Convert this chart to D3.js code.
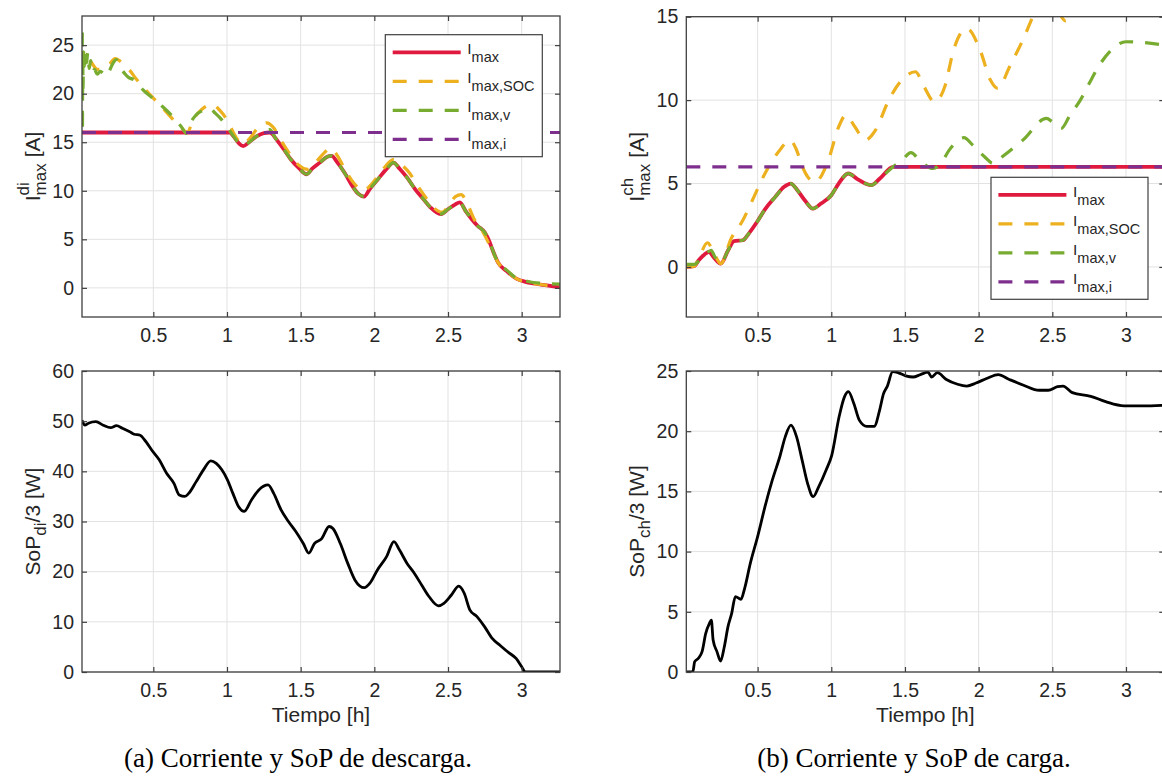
<!DOCTYPE html>
<html><head><meta charset="utf-8">
<script src="https://cdn.jsdelivr.net/npm/d3@7"></script>
<style>body{margin:0;background:#fff}svg{display:block}</style>
</head><body>
<svg id="c" width="1162" height="778"></svg>
<script>
// ---------- data ----------
const timeDomain = [0.016, 3.26];
const xTicks = [0.5, 1, 1.5, 2, 2.5, 3];
const xTickLabels = ["0.5", "1", "1.5", "2", "2.5", "3"];
const diCurTicks = [0, 5, 10, 15, 20, 25];
const chCurTicks = [0, 5, 10, 15];
const diSoPTicks = [0, 10, 20, 30, 40, 50, 60];
const chSoPTicks = [0, 5, 10, 15, 20, 25];
const legendNames = ["max", "max,SOC", "max,v", "max,i"];

// discharge: I_max (red)
const diImax = [[0.016,16],[1.0,16],[1.02,16],[1.04,15.7],[1.08,14.9],[1.11,14.6],[1.15,15.0],[1.2,15.6],[1.25,15.95],[1.29,16.0],[1.31,15.8],[1.33,15.4],[1.38,14.4],[1.43,13.3],[1.49,12.3],[1.54,11.7],[1.58,12.3],[1.63,12.9],[1.68,13.5],[1.71,13.6],[1.75,12.9],[1.8,11.8],[1.85,10.5],[1.89,9.7],[1.93,9.4],[1.97,10.2],[2.02,11.1],[2.08,12.2],[2.13,12.9],[2.17,12.3],[2.22,11.4],[2.28,10.1],[2.33,9.2],[2.38,8.3],[2.45,7.6],[2.5,8.1],[2.55,8.6],[2.58,8.8],[2.62,7.9],[2.66,7.1],[2.7,6.4],[2.75,5.7],[2.78,4.8],[2.8,4.0],[2.84,2.6],[2.9,1.7],[2.97,0.9],[3.02,0.65],[3.08,0.45],[3.17,0.25],[3.26,0.05]];
// discharge: I_max,SOC (orange)
const diImaxSOC = [[0.016,24.3],[0.02,23.6],[0.03,24.4],[0.05,23.8],[0.08,23.2],[0.12,22.5],[0.16,22.6],[0.2,23.0],[0.24,23.6],[0.27,23.4],[0.3,23.0],[0.34,22.4],[0.38,21.6],[0.43,20.7],[0.49,19.7],[0.56,18.6],[0.63,17.4],[0.69,16.5],[0.73,16.0],[0.77,17.3],[0.83,18.4],[0.9,18.9],[0.95,18.3],[1.0,17.3],[1.04,16.1],[1.08,15.1],[1.11,14.8],[1.16,15.5],[1.21,16.5],[1.27,17.0],[1.31,16.6],[1.37,15.1],[1.43,13.7],[1.49,12.6],[1.55,12.2],[1.6,12.9],[1.66,13.9],[1.7,14.4],[1.75,13.6],[1.8,12.2],[1.86,10.8],[1.9,10.2],[1.93,10.0],[1.97,10.5],[2.03,11.6],[2.08,12.6],[2.13,13.2],[2.19,12.6],[2.24,11.8],[2.29,10.6],[2.35,9.3],[2.4,8.3],[2.46,7.8],[2.51,8.6],[2.55,9.4],[2.59,9.6],[2.63,8.7],[2.68,7.0],[2.72,6.2],[2.76,5.1],[2.8,3.8],[2.84,2.6],[2.9,1.7],[2.97,0.9],[3.03,0.6],[3.1,0.4],[3.18,0.25],[3.26,0.12]];
// discharge: I_max,v (green)
const diImaxV = [[0.018,26.3],[0.019,16.1],[0.021,24.0],[0.023,20.5],[0.026,24.3],[0.031,22.8],[0.038,24.5],[0.047,23.2],[0.055,24.2],[0.065,22.6],[0.075,23.4],[0.085,22.2],[0.1,22.5],[0.12,22.0],[0.14,22.3],[0.16,22.1],[0.18,21.8],[0.2,22.3],[0.225,23.1],[0.25,23.5],[0.27,22.9],[0.29,22.4],[0.31,22.0],[0.33,21.7],[0.37,21.4],[0.4,20.9],[0.43,20.4],[0.49,19.6],[0.56,18.7],[0.64,17.5],[0.69,16.6],[0.725,15.9],[0.75,16.9],[0.79,17.8],[0.84,18.3],[0.88,18.5],[0.92,18.0],[0.965,17.3],[1.0,16.6],[1.04,15.7],[1.08,14.9],[1.11,14.6],[1.15,15.0],[1.2,15.6],[1.25,16.1],[1.29,16.3],[1.33,15.4],[1.38,14.4],[1.43,13.3],[1.49,12.3],[1.54,11.7],[1.58,12.3],[1.63,12.9],[1.68,13.5],[1.71,13.6],[1.75,12.9],[1.8,11.8],[1.85,10.5],[1.89,9.7],[1.93,9.4],[1.97,10.2],[2.02,11.1],[2.08,12.2],[2.13,12.9],[2.17,12.3],[2.22,11.4],[2.28,10.1],[2.33,9.2],[2.38,8.3],[2.45,7.6],[2.5,8.1],[2.55,8.6],[2.58,8.8],[2.62,7.9],[2.66,7.1],[2.7,6.4],[2.75,5.7],[2.78,4.8],[2.8,4.0],[2.84,2.6],[2.9,1.8],[2.97,0.95],[3.02,0.75],[3.08,0.55],[3.17,0.45],[3.26,0.38]];
// discharge: I_max,i (purple)
const diImaxI = [[0.016,16],[3.26,16]];

// charge: I_max (red)
const chImax = [[0.016,0.0],[0.07,0.05],[0.1,0.4],[0.14,0.75],[0.17,0.9],[0.2,0.6],[0.25,0.2],[0.3,1.0],[0.34,1.55],[0.4,1.6],[0.44,2.0],[0.5,2.75],[0.55,3.45],[0.62,4.2],[0.68,4.8],[0.725,5.0],[0.77,4.6],[0.82,4.0],[0.875,3.5],[0.93,3.8],[1.0,4.3],[1.05,5.0],[1.115,5.6],[1.18,5.25],[1.27,4.9],[1.33,5.3],[1.42,6.0],[3.26,6.0]];
// charge: I_max,SOC (orange)
const chImaxSOC = [[0.016,0.0],[0.07,0.05],[0.1,0.5],[0.16,1.45],[0.2,0.9],[0.25,0.2],[0.32,1.7],[0.4,2.8],[0.475,4.2],[0.55,5.6],[0.65,7.0],[0.72,7.6],[0.76,7.1],[0.8,6.1],[0.84,5.4],[0.89,5.1],[0.98,6.4],[1.05,8.4],[1.1,9.1],[1.16,8.4],[1.23,7.6],[1.3,8.2],[1.39,10.0],[1.5,11.4],[1.57,11.7],[1.63,10.8],[1.7,9.9],[1.77,10.8],[1.83,13.0],[1.92,14.3],[2.01,13.0],[2.08,11.2],[2.13,10.7],[2.21,12.0],[2.31,13.8],[2.38,15.2],[2.45,15.9],[2.52,15.6],[2.59,14.75],[2.64,15.4],[2.75,16.5],[2.9,17.5],[3.05,18.0],[3.26,18.2]];
// charge: I_max,v (green)
const chImaxV = [[0.016,0.15],[0.07,0.15],[0.1,0.35],[0.14,0.7],[0.185,1.0],[0.21,0.6],[0.25,0.24],[0.3,1.0],[0.34,1.55],[0.4,1.6],[0.44,2.0],[0.5,2.75],[0.55,3.45],[0.62,4.2],[0.68,4.8],[0.725,5.0],[0.77,4.6],[0.82,4.0],[0.875,3.5],[0.93,3.8],[1.0,4.3],[1.05,5.0],[1.115,5.6],[1.18,5.25],[1.27,4.9],[1.33,5.3],[1.42,6.0],[1.48,6.4],[1.54,6.85],[1.6,6.4],[1.69,5.9],[1.75,6.3],[1.8,7.0],[1.9,7.75],[1.96,7.3],[2.04,6.6],[2.1,6.2],[2.16,6.6],[2.3,7.6],[2.46,8.9],[2.5,8.7],[2.56,8.3],[2.62,9.1],[2.69,10.0],[2.75,11.0],[2.82,12.1],[2.9,13.0],[3.0,13.5],[3.12,13.45],[3.26,13.3]];
// charge: I_max,i (purple)
const chImaxI = [[0.016,6],[3.26,6]];

// SoP discharge / 3 (W)
const diSoP = [[0.016,50.2],[0.035,49.2],[0.06,49.6],[0.11,49.9],[0.16,49.2],[0.21,48.7],[0.25,49.1],[0.29,48.6],[0.34,47.9],[0.37,47.4],[0.41,47.2],[0.45,45.9],[0.49,44.2],[0.54,42.3],[0.59,39.6],[0.64,37.6],[0.676,35.3],[0.714,35.0],[0.74,35.6],[0.79,37.9],[0.84,40.3],[0.89,42.1],[0.927,41.6],[0.965,40.3],[1.003,38.3],[1.04,35.6],[1.078,33.0],[1.116,32.0],[1.166,34.3],[1.216,36.3],[1.279,37.3],[1.317,35.6],[1.367,32.3],[1.417,30.0],[1.467,28.0],[1.518,25.6],[1.555,23.7],[1.593,25.6],[1.643,26.6],[1.693,29.0],[1.719,28.6],[1.769,25.6],[1.819,21.7],[1.869,18.3],[1.932,16.8],[1.97,17.7],[2.02,20.3],[2.083,23.0],[2.133,26.0],[2.171,24.3],[2.221,21.7],[2.271,19.7],[2.322,17.3],[2.372,15.0],[2.435,13.2],[2.472,13.7],[2.523,15.35],[2.573,17.1],[2.61,15.7],[2.648,12.4],[2.698,11.0],[2.749,9.0],[2.8,6.7],[2.85,5.4],[2.912,3.85],[2.962,2.7],[3.0,1.06],[3.025,0],[3.26,0]];
// SoP charge / 3 (W)
const chSoP = [[0.016,0],[0.06,0],[0.073,0.86],[0.098,1.14],[0.123,1.69],[0.148,3.2],[0.173,4.04],[0.186,4.3],[0.198,2.66],[0.224,1.69],[0.249,0.91],[0.274,2.1],[0.299,3.77],[0.324,4.87],[0.349,6.26],[0.387,6.04],[0.412,6.95],[0.45,9.0],[0.5,11.24],[0.55,13.73],[0.6,15.95],[0.651,17.9],[0.688,19.55],[0.726,20.5],[0.764,19.55],[0.802,17.6],[0.839,15.67],[0.877,14.56],[0.915,15.4],[0.965,16.78],[1.003,18.0],[1.053,21.2],[1.09,22.87],[1.116,23.28],[1.153,22.3],[1.191,20.9],[1.241,20.4],[1.291,20.4],[1.329,21.8],[1.354,23.1],[1.379,23.7],[1.417,24.94],[1.455,24.85],[1.505,24.6],[1.555,24.5],[1.605,24.7],[1.656,24.9],[1.681,24.5],[1.719,24.86],[1.781,24.3],[1.857,23.9],[1.92,23.75],[1.982,24.0],[2.058,24.4],[2.133,24.7],[2.208,24.3],[2.309,23.8],[2.41,23.4],[2.472,23.4],[2.535,23.7],[2.573,23.75],[2.636,23.2],[2.761,22.9],[2.862,22.45],[2.987,22.1],[3.113,22.1],[3.26,22.15]];

// ---------- styles ----------
const RED = "#e0193f", ORANGE = "#edb120", GREEN = "#77ac30", PURPLE = "#7e2f8e";
const AX = "#404040", TXT = "#262626", GRID = "#e2e2e2";
const DASH = "14,12";
const SANS = '"Liberation Sans",Arial,Helvetica,sans-serif';
const SERIF = '"Liberation Serif","Times New Roman",Times,serif';

const svg = d3.select("#c");

function rich(parent, parts) {
  const g = parent.append("g");
  let cx = 0, lastStart = 0;
  parts.forEach(p => {
    const px = p.stack ? lastStart : cx + (p.gap || 0);
    const t = g.append("text").attr("x", px).attr("y", p.dy || 0)
      .style("font-family", SANS).attr("font-size", p.fs).attr("fill", p.fill || TXT).text(p.s);
    const w = t.node().getComputedTextLength();
    if (p.stack) cx = Math.max(cx, px + w);
    else { lastStart = px; cx = px + w; }
  });
  return {g, width: cx};
}

function panel(o) {
  const x = d3.scaleLinear().domain(timeDomain).range([o.x0, o.x1]);
  const y = d3.scaleLinear().domain(o.ydom).range([o.y1, o.y0]);
  const id = "clip" + o.id;
  svg.append("clipPath").attr("id", id).append("rect")
    .attr("x", o.x0).attr("y", o.y0).attr("width", o.x1 - o.x0).attr("height", o.y1 - o.y0);
  const g = svg.append("g");
  // grid
  g.append("g").selectAll("line").data(xTicks).join("line")
    .attr("x1", d => x(d)).attr("x2", d => x(d)).attr("y1", o.y0).attr("y2", o.y1)
    .attr("stroke", GRID).attr("stroke-width", 1);
  g.append("g").selectAll("line").data(o.yticks).join("line")
    .attr("y1", d => y(d)).attr("y2", d => y(d)).attr("x1", o.x0).attr("x2", o.x1)
    .attr("stroke", GRID).attr("stroke-width", 1);
  // data
  const line = d3.line().x(d => x(d[0])).y(d => y(d[1])).curve(d3.curveMonotoneX);
  const dg = g.append("g").attr("clip-path", `url(#${id})`);
  o.series.forEach(s => {
    dg.append("path").datum(s.data).attr("d", line).attr("fill", "none")
      .attr("stroke", s.color).attr("stroke-width", s.w)
      .attr("stroke-dasharray", s.dash || null)
      .attr("stroke-linejoin", "round").attr("stroke-linecap", "butt");
  });
  // axes via d3 axis, inward ticks
  const TL = 5;
  const ax = g.append("g");
  ax.append("g").attr("transform", `translate(0,${o.y1})`)
    .call(d3.axisBottom(x).tickValues(xTicks).tickFormat((d, i) => xTickLabels[i]).tickSizeInner(-TL).tickSizeOuter(0).tickPadding(11));
  ax.append("g").attr("transform", `translate(0,${o.y0})`)
    .call(d3.axisTop(x).tickValues(xTicks).tickFormat("").tickSizeInner(-TL).tickSizeOuter(0));
  ax.append("g").attr("transform", `translate(${o.x0},0)`)
    .call(d3.axisLeft(y).tickValues(o.yticks).tickFormat(d3.format("d")).tickSizeInner(-TL).tickSizeOuter(0).tickPadding(8));
  ax.append("g").attr("transform", `translate(${o.x1},0)`)
    .call(d3.axisRight(y).tickValues(o.yticks).tickFormat("").tickSizeInner(-TL).tickSizeOuter(0));
  ax.selectAll(".domain").remove();
  ax.selectAll(".tick line").attr("stroke", AX).attr("stroke-width", 1.2);
  ax.selectAll(".tick text").attr("fill", TXT).attr("font-size", 19.5).style("font-family", SANS);
  g.append("rect").attr("x", o.x0).attr("y", o.y0).attr("width", o.x1 - o.x0).attr("height", o.y1 - o.y0)
    .attr("fill", "none").attr("stroke", AX).attr("stroke-width", 1.3);
  // y label (rotated)
  const yl = svg.append("g").attr("transform", `translate(${o.x0 - 42},${(o.y0 + o.y1) / 2}) rotate(-90)`);
  const r = rich(yl, o.ylabel);
  r.g.attr("transform", `translate(${-r.width / 2},0)`);
  // x label
  if (o.xlabel) {
    svg.append("text").attr("x", (o.x0 + o.x1) / 2).attr("y", o.y1 + 50)
      .attr("text-anchor", "middle").style("font-family", SANS).attr("font-size", 21).attr("fill", TXT).text(o.xlabel);
  }
  // legend
  if (o.legend) {
    const L = o.legend;
    const lg = svg.append("g").attr("transform", `translate(${L.x},${L.y})`);
    lg.append("rect").attr("width", 157).attr("height", 122).attr("fill", "#fff")
      .attr("stroke", AX).attr("stroke-width", 1.2);
    legendNames.forEach((nm, i) => {
      const s = o.series[i];
      const yy = 17.6 + 29 * i;
      lg.append("line").attr("x1", 7.4).attr("x2", 75.4).attr("y1", yy).attr("y2", yy)
        .attr("stroke", s.color).attr("stroke-width", s.w).attr("stroke-dasharray", s.dash || null);
      const e = lg.append("g").attr("transform", `translate(82,${yy})`);
      rich(e, [{s: "I", fs: 15.5, dy: 2}, {s: nm, fs: 14.5, dy: 10}]);
    });
  }
}

const SUB = 17;
panel({id: 1, x0: 82, x1: 560, y0: 16, y1: 317, ydom: [-3, 28], yticks: diCurTicks,
  series: [{data: diImax, color: RED, w: 3.8}, {data: diImaxSOC, color: ORANGE, w: 3.2, dash: DASH},
           {data: diImaxV, color: GREEN, w: 3.2, dash: DASH}, {data: diImaxI, color: PURPLE, w: 3.2, dash: DASH}],
  legend: {x: 385.3, y: 34.7},
  ylabel: [{s: "I", fs: 21}, {s: "di", fs: SUB, dy: -11}, {s: "max", fs: SUB, dy: 6, stack: true}, {s: "[A]", fs: 21, gap: 6}]});
panel({id: 2, x0: 686.3, x1: 1164.3, y0: 16.7, y1: 317, ydom: [-3, 15], yticks: chCurTicks,
  series: [{data: chImax, color: RED, w: 3.8}, {data: chImaxSOC, color: ORANGE, w: 3.2, dash: DASH},
           {data: chImaxV, color: GREEN, w: 3.2, dash: DASH}, {data: chImaxI, color: PURPLE, w: 3.2, dash: DASH}],
  legend: {x: 991, y: 177.3},
  ylabel: [{s: "I", fs: 21}, {s: "ch", fs: SUB, dy: -11}, {s: "max", fs: SUB, dy: 6, stack: true}, {s: "[A]", fs: 21, gap: 6}]});
panel({id: 3, x0: 82, x1: 560, y0: 371, y1: 672, ydom: [0, 60], yticks: diSoPTicks,
  series: [{data: diSoP, color: "#000", w: 2.8}], xlabel: "Tiempo [h]",
  ylabel: [{s: "SoP", fs: 21}, {s: "di", fs: SUB, dy: 6}, {s: "/3 [W]", fs: 21}]});
panel({id: 4, x0: 686.3, x1: 1164.3, y0: 371, y1: 672, ydom: [0, 25], yticks: chSoPTicks,
  series: [{data: chSoP, color: "#000", w: 2.8}], xlabel: "Tiempo [h]",
  ylabel: [{s: "SoP", fs: 21}, {s: "ch", fs: SUB, dy: 6}, {s: "/3 [W]", fs: 21}]});

// captions
svg.append("text").attr("x", 298).attr("y", 767).attr("text-anchor", "middle")
  .style("font-family", SERIF).attr("font-size", 27).attr("fill", "#000")
  .text("(a) Corriente y SoP de descarga.");
svg.append("text").attr("x", 914).attr("y", 767).attr("text-anchor", "middle")
  .style("font-family", SERIF).attr("font-size", 27).attr("fill", "#000")
  .text("(b) Corriente y SoP de carga.");
</script>
</body></html>
